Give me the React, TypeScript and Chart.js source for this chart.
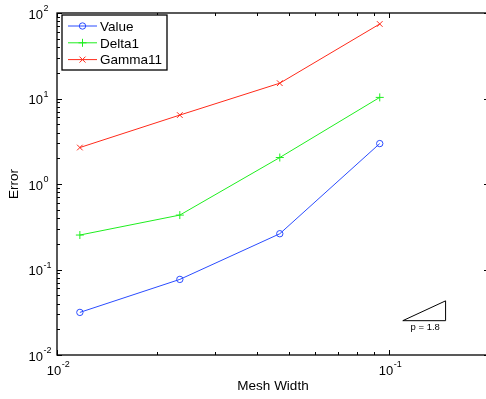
import React, { useEffect, useRef } from "react";
import { Chart, registerables } from "chart.js";

Chart.register(...registerables);

// ---- data ----
const meshWidth = [0.01171875, 0.0234375, 0.046875, 0.09375];
const valueErr = [0.0315, 0.0766, 0.262, 2.97];
const delta1Err = [0.253, 0.433, 2.04, 10.3];
const gamma11Err = [2.67, 6.4, 15.1, 74.4];
const seriesLabels = ["Value", "Delta1", "Gamma11"];
const seriesColors = ["#2a4cff", "#1fee1f", "#ff2a1a"];
const seriesMarkers = ["circle", "cross", "crossRot"];
const xRange = [0.01, 0.2];
const yRange = [0.01, 100];
const slopeTriangleX = [0.11, 0.148];
const slopeTriangleBaseY = 0.0252;
const slopeOrder = 1.8;
const slopeLabel = "p = 1.8";
const xTitle = "Mesh Width";
const yTitle = "Error";

const W = 494;
const H = 399;
const FONT = '"Liberation Sans", Arial, Helvetica, sans-serif';

function logTicks(min: number, max: number) {
  const majors: number[] = [];
  const minors: number[] = [];
  const e0 = Math.floor(Math.log10(min) + 1e-9);
  const e1 = Math.ceil(Math.log10(max) - 1e-9);
  for (let e = e0; e <= e1; e++) {
    const base = Math.pow(10, e);
    for (let k = 1; k <= 9; k++) {
      const v = k * base;
      if (v < min * 0.9999 || v > max * 1.0001) continue;
      if (k === 1) majors.push(v);
      else minors.push(v);
    }
  }
  return { majors, minors };
}

function drawMarker(ctx: CanvasRenderingContext2D, style: string, x: number, y: number, r: number) {
  ctx.beginPath();
  if (style === "circle") {
    ctx.arc(x, y, r, 0, Math.PI * 2);
  } else if (style === "cross") {
    ctx.moveTo(x - r, y);
    ctx.lineTo(x + r, y);
    ctx.moveTo(x, y - r);
    ctx.lineTo(x, y + r);
  } else {
    const d = r * 0.75;
    ctx.moveTo(x - d, y - d);
    ctx.lineTo(x + d, y + d);
    ctx.moveTo(x - d, y + d);
    ctx.lineTo(x + d, y - d);
  }
  ctx.stroke();
}

function expParts(v: number) {
  const e = Math.round(Math.log10(v));
  return { base: "10", sup: String(e) };
}

const matlabPlugin = {
  id: "matlabDecor",
  afterDraw(chart: any) {
    const { ctx, chartArea: a, scales } = chart;
    const xs = scales.x;
    const ys = scales.y;
    ctx.save();

    // slope triangle
    const tx0 = xs.getPixelForValue(slopeTriangleX[0]);
    const tx1 = xs.getPixelForValue(slopeTriangleX[1]);
    const ty0 = ys.getPixelForValue(slopeTriangleBaseY);
    const ty1 = ys.getPixelForValue(
      slopeTriangleBaseY * Math.pow(slopeTriangleX[1] / slopeTriangleX[0], slopeOrder)
    );
    ctx.strokeStyle = "#000";
    ctx.lineWidth = 1;
    ctx.beginPath();
    ctx.moveTo(tx0, ty0);
    ctx.lineTo(tx1, ty0);
    ctx.lineTo(tx1, ty1);
    ctx.closePath();
    ctx.stroke();
    ctx.fillStyle = "#000";
    ctx.font = `9.5px ${FONT}`;
    ctx.textAlign = "center";
    ctx.textBaseline = "alphabetic";
    ctx.fillText(slopeLabel, (tx0 + tx1) / 2 + 1, ty0 + 9);

    // axes box
    ctx.lineWidth = 1.3;
    ctx.strokeStyle = "#000";
    ctx.strokeRect(a.left, a.top, a.right - a.left, a.bottom - a.top);

    // ticks
    const MAJ = 5;
    const MIN = 3;
    ctx.lineWidth = 1;
    const xt = logTicks(xRange[0], xRange[1]);
    const yt = logTicks(yRange[0], yRange[1]);
    ctx.beginPath();
    const xTick = (v: number, len: number) => {
      const p = Math.round(xs.getPixelForValue(v)) + 0.5;
      ctx.moveTo(p, a.bottom);
      ctx.lineTo(p, a.bottom - len);
      ctx.moveTo(p, a.top);
      ctx.lineTo(p, a.top + len);
    };
    const yTick = (v: number, len: number) => {
      const p = Math.round(ys.getPixelForValue(v)) + 0.5;
      ctx.moveTo(a.left, p);
      ctx.lineTo(a.left + len, p);
      ctx.moveTo(a.right, p);
      ctx.lineTo(a.right - len, p);
    };
    xt.majors.forEach((v) => xTick(v, MAJ));
    xt.minors.forEach((v) => xTick(v, MIN));
    yt.majors.forEach((v) => yTick(v, MAJ));
    yt.minors.forEach((v) => yTick(v, MIN));
    ctx.stroke();

    // tick labels
    ctx.fillStyle = "#000";
    ctx.textAlign = "left";
    ctx.textBaseline = "alphabetic";
    const baseFont = `13px ${FONT}`;
    const supFont = `9px ${FONT}`;
    xt.majors.forEach((v) => {
      const { base, sup } = expParts(v);
      ctx.font = baseFont;
      const w1 = ctx.measureText(base).width;
      ctx.font = supFont;
      const w2 = ctx.measureText(sup).width;
      const px = xs.getPixelForValue(v);
      const sx = px - (w1 + w2) / 2 + 1;
      ctx.font = baseFont;
      ctx.fillText(base, sx, a.bottom + 20);
      ctx.font = supFont;
      ctx.fillText(sup, sx + w1 + 0.5, a.bottom + 12);
    });
    yt.majors.forEach((v) => {
      const { base, sup } = expParts(v);
      ctx.font = baseFont;
      const w1 = ctx.measureText(base).width;
      const py = ys.getPixelForValue(v);
      const sx = a.left - 14 - w1;
      ctx.fillText(base, sx, py + 5.5);
      ctx.font = supFont;
      ctx.fillText(sup, sx + w1 + 0.5, py - 2);
    });

    // axis titles
    ctx.font = `13.5px ${FONT}`;
    ctx.textAlign = "center";
    ctx.fillText(xTitle, (a.left + a.right) / 2, a.bottom + 35);
    ctx.save();
    ctx.translate(18, (a.top + a.bottom) / 2);
    ctx.rotate(-Math.PI / 2);
    ctx.fillText(yTitle, 0, 0);
    ctx.restore();

    // legend
    const lx = a.left + 5;
    const ly = a.top + 2;
    const lw = 105;
    const lh = 55;
    ctx.fillStyle = "#fff";
    ctx.fillRect(lx, ly, lw, lh);
    ctx.lineWidth = 1.3;
    ctx.strokeStyle = "#000";
    ctx.strokeRect(lx, ly, lw, lh);
    ctx.font = `13.5px ${FONT}`;
    ctx.textAlign = "left";
    ctx.textBaseline = "middle";
    chart.data.datasets.forEach((ds: any, i: number) => {
      const cy = ly + 11 + i * 16.8;
      ctx.strokeStyle = ds.borderColor;
      ctx.lineWidth = 1;
      ctx.beginPath();
      ctx.moveTo(lx + 6, cy);
      ctx.lineTo(lx + 35, cy);
      ctx.stroke();
      drawMarker(ctx, ds.pointStyle, lx + 20.5, cy, ds.pointStyle === "circle" ? 3.2 : 4);
      ctx.fillStyle = "#000";
      ctx.fillText(ds.label, lx + 38, cy + 1);
    });

    ctx.restore();
  },
};

export default function App() {
  const ref = useRef<HTMLCanvasElement>(null);
  useEffect(() => {
    document.body.style.margin = "0";
    document.body.style.overflow = "hidden";
    const series = [valueErr, delta1Err, gamma11Err];
    const chart = new Chart(ref.current as HTMLCanvasElement, {
      type: "line",
      data: {
        datasets: series.map((vals, i) => ({
          label: seriesLabels[i],
          data: meshWidth.map((x, j) => ({ x, y: vals[j] })),
          borderColor: seriesColors[i],
          borderWidth: 1,
          pointStyle: seriesMarkers[i] as any,
          pointRadius: seriesMarkers[i] === "circle" ? 3.2 : 4,
          pointBorderColor: seriesColors[i],
          pointBackgroundColor: "rgba(0,0,0,0)",
          pointBorderWidth: 1,
          tension: 0,
          fill: false,
        })),
      },
      options: {
        responsive: false,
        animation: false,
        devicePixelRatio: 1,
        layout: { padding: { left: 57, top: 13, right: W - 493, bottom: H - 355 } },
        plugins: { legend: { display: false }, tooltip: { enabled: false } },
        scales: {
          x: { type: "logarithmic", min: xRange[0], max: xRange[1], display: false },
          y: { type: "logarithmic", min: yRange[0], max: yRange[1], display: false },
        },
      },
      plugins: [matlabPlugin],
    });
    return () => chart.destroy();
  }, []);
  return (
    <div style={{ position: "fixed", left: 0, top: 0, width: W, height: H, background: "#fff" }}>
      <canvas ref={ref} width={W} height={H} style={{ display: "block" }} />
    </div>
  );
}
